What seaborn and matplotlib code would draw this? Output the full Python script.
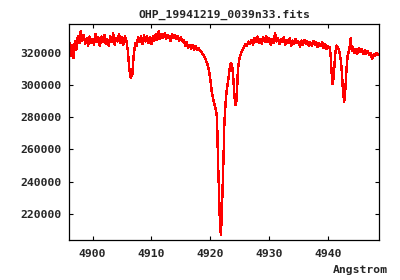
import matplotlib
matplotlib.use("Agg")
import matplotlib.pyplot as plt
import seaborn as sns
import pandas as pd

# Spectrum (wavelength in Angstrom, flux)
wavelength = [
    4896.00, 4896.25, 4896.50, 4896.75, 4897.00, 4897.25, 4897.50, 4897.75,
    4898.00, 4898.25, 4898.50, 4898.75, 4899.00, 4899.25, 4899.50, 4899.75,
    4900.00, 4900.25, 4900.50, 4900.75, 4901.00, 4901.25, 4901.50, 4901.75,
    4902.00, 4902.25, 4902.50, 4902.75, 4903.00, 4903.25, 4903.50, 4903.75,
    4904.00, 4904.25, 4904.50, 4904.75, 4905.00, 4905.25, 4905.50, 4905.75,
    4906.00, 4906.25, 4906.50, 4906.75, 4907.00, 4907.25,
    4907.50, 4907.75, 4908.00, 4908.25, 4908.50, 4908.75, 4909.00, 4909.25,
    4909.50, 4909.75, 4910.00, 4910.25, 4910.50, 4910.75, 4911.00, 4911.25,
    4911.50, 4911.75, 4912.00, 4912.25, 4912.50, 4912.75, 4913.00, 4913.25,
    4913.50, 4913.75, 4914.00, 4914.25, 4914.50, 4914.75, 4915.00, 4915.25,
    4915.50, 4915.75, 4916.00, 4916.25, 4916.50,
    4916.75, 4917.00, 4917.25, 4917.50, 4917.75, 4918.00, 4918.25, 4918.50,
    4918.75, 4919.00, 4919.25, 4919.50, 4919.75, 4920.00, 4920.25, 4920.50,
    4920.75, 4921.00, 4921.15, 4921.30, 4921.50, 4921.65, 4921.80, 4921.95,
    4922.10, 4922.25, 4922.40, 4922.60, 4922.80, 4923.05, 4923.30, 4923.50,
    4923.70, 4923.90, 4924.10, 4924.25, 4924.40, 4924.55, 4924.70, 4924.95,
    4925.20, 4925.45, 4925.70, 4925.95, 4926.25, 4926.50, 4926.75, 4927.00,
    4927.25, 4927.50, 4927.75, 4928.00, 4928.25, 4928.50, 4928.75, 4929.00,
    4929.25, 4929.50, 4929.75, 4930.00, 4930.25, 4930.50, 4930.75, 4931.00,
    4931.25, 4931.50, 4931.75, 4932.00, 4932.25, 4932.50, 4932.75, 4933.00,
    4933.25, 4933.50, 4933.75, 4934.00, 4934.25, 4934.50, 4934.75, 4935.00,
    4935.25, 4935.50, 4935.75, 4936.00, 4936.25, 4936.50, 4936.75, 4937.00,
    4937.25, 4937.50, 4937.75, 4938.00, 4938.25, 4938.50, 4938.75, 4939.00,
    4939.25, 4939.50, 4939.75, 4940.00,
    4940.25, 4940.45, 4940.60, 4940.80, 4941.00, 4941.20, 4941.45, 4941.70,
    4941.95, 4942.15, 4942.35, 4942.55, 4942.75, 4942.95, 4943.15, 4943.35,
    4943.60, 4943.85, 4944.05, 4944.25, 4944.50, 4944.75, 4945.00, 4945.25,
    4945.50, 4945.75, 4946.00, 4946.25, 4946.50, 4946.75, 4947.00, 4947.25,
    4947.50, 4947.75, 4948.00, 4948.25, 4948.50, 4948.75,
]

flux = [
    328500, 318000, 325000, 316500, 327000, 322000, 330500, 326000,
    333500, 327500, 331000, 325500, 329000, 324500, 330000, 326000,
    328500, 325000, 331500, 326500, 329500, 324000, 330000, 327000,
    331000, 325500, 328500, 324500, 330500, 326500, 332000, 325000,
    329000, 327000, 331500, 326000, 329500, 325000, 330000, 327500,
    321000, 310000, 304500, 306500, 319000, 326000,
    324500, 329500, 326500, 330000, 325500, 331000, 327000, 330500,
    326000, 329500, 325500, 330000, 327500, 331500, 328000, 333500,
    328500, 331500, 329000, 332000, 328500, 331000, 329500, 327500,
    331500, 329000, 331000, 328500, 330500, 327500, 329500, 327000,
    328000, 324500, 326500, 323000, 325000,
    322500, 325000, 322000, 324000, 321500, 323000, 321000, 320500,
    319000, 317500, 315500, 313000, 309500, 303500, 296000, 291000,
    287500, 284000, 279000, 255000, 232000, 213500, 207000, 218500,
    237000, 255000, 277000, 289000, 297000, 303000, 310000, 313500,
    313000, 304500, 294000, 287500, 288500, 296000, 310000, 316500,
    319500, 321500, 323500, 325500, 324500, 327000, 325500, 328000,
    325000, 329000, 326500, 330000, 326000, 328500, 325500, 329500,
    327000, 330500, 326500, 329000, 325000, 328500, 326000, 332000,
    327000, 329000, 325500, 328500, 326500, 329500, 325000, 328000,
    326000, 329000, 324500, 327500, 325500, 328500, 326000, 327000,
    323500, 327500, 325000, 328000, 325500, 327000, 324000, 326500,
    324500, 327500, 325000, 326500, 323500, 326000, 324000, 326500,
    323000, 325500, 322500, 324000,
    323500, 318500, 308000, 300500, 306000, 318500, 324500, 323000,
    320500, 316000, 308500, 296000, 289500, 297500, 310000, 318500,
    321500, 329000, 321000, 323500, 320000, 322500, 319500, 323000,
    320500, 322000, 319000, 321500, 319500, 321000, 318500, 320000,
    316000, 319000, 318000, 320000, 318500, 319500,
]

x_ticks = [4900, 4910, 4920, 4930, 4940]
y_ticks = [220000, 240000, 260000, 280000, 300000, 320000]

df = pd.DataFrame({"wavelength": wavelength, "flux": flux})

sns.set_style("ticks")
plt.rcParams['font.family'] = ['DejaVu Sans Mono', 'DejaVu Sans']
plt.rcParams['font.weight'] = 'bold'

fig = plt.figure(figsize=(4, 2.8), dpi=100)
ax = fig.add_axes([0.1725, 0.142, 0.948 - 0.1725, 0.913 - 0.142])

sns.lineplot(data=df, x="wavelength", y="flux", color="red", linewidth=1.0,
             estimator=None, antialiased=False, ax=ax)

ax.set_xlim(4896.0, 4948.7)
ax.set_ylim(203700, 337600)
ax.set_xticks(x_ticks)
ax.set_yticks(y_ticks)
ax.set_xticklabels([str(t) for t in x_ticks], fontsize=8.2, fontweight='bold')
ax.set_yticklabels([str(t) for t in y_ticks], fontsize=8.2, fontweight='bold')
ax.tick_params(direction='in', length=3, width=0.8, top=True, right=True,
               color='black')
ax.tick_params(axis='y', pad=5.5)
ax.tick_params(axis='x', pad=6.5)
for s in ax.spines.values():
    s.set_linewidth(0.9)
    s.set_color('black')

ax.set_xlabel("")
ax.set_ylabel("")
ax.set_title("OHP_19941219_0039n33.fits", fontsize=8.2, fontweight='bold', pad=4.5)
fig.text(0.97, 0.034, "Angstrom", ha='right', va='center', fontsize=8.2,
         fontweight='bold')

fig.savefig("out.png", dpi=100)
